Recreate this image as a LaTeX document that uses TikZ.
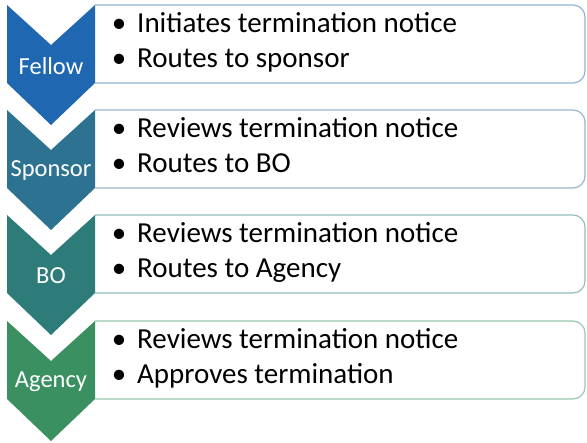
\documentclass[tikz,border=0pt]{standalone}
\usepackage{fontspec}
\setmainfont{Carlito}
\definecolor{azulf}{HTML}{1F67B1}
\definecolor{azuls}{HTML}{2D7290}
\definecolor{verdeb}{HTML}{2E7C79}
\definecolor{verdea}{HTML}{3A9060}
\tikzset{
	etiqueta/.style={text=white, font=\fontsize{24.5}{28}\selectfont, inner sep=0pt},
	renglon/.style={anchor=base west, font=\fontsize{29}{34}\selectfont, inner sep=0pt},
	punto/.style={anchor=base, font=\fontsize{29}{34}\selectfont, inner sep=0pt}
}
% #1 top, #2 colour, #3 name, #4 label, #5 first line, #6 second line
\newcommand{\paso}[6]{
	\filldraw [fill=white, draw=#2!50, line width=1.2pt, rounded corners=12pt] (95,#1) -- (585,#1) -- (585,#1-78) -- (95,#1-78);
	\fill [#2] (7,#1) -- (51,#1-40) -- (95,#1) -- (95,#1-78) -- (51,#1-120) -- (7,#1-78) -- cycle;
	\node [etiqueta] (#3) at (51,#1-61) {#4};
	\node [punto] (#3-p1) at (119,#1-28) {\textbullet};
	\node [renglon] (#3-a) at (137,#1-28) {#5};
	\node [punto] (#3-p2) at (119,#1-63) {\textbullet};
	\node [renglon] (#3-b) at (137,#1-63) {#6};
	}

\begin{document}
\begin{tikzpicture}[x=1pt, y=1pt]
	\useasboundingbox (0,0) rectangle (587,443);
	\paso{438}{azulf}{fellow}{Fellow}{Initiates termination notice}{Routes to sponsor}
	\paso{333}{azuls}{sponsor}{Sponsor}{Reviews termination notice}{Routes to BO}
	\paso{228}{verdeb}{bo}{BO}{Reviews termination notice}{Routes to Agency}
	\paso{122}{verdea}{agency}{Agency}{Reviews termination notice}{Approves termination}
\end{tikzpicture}
\end{document}
